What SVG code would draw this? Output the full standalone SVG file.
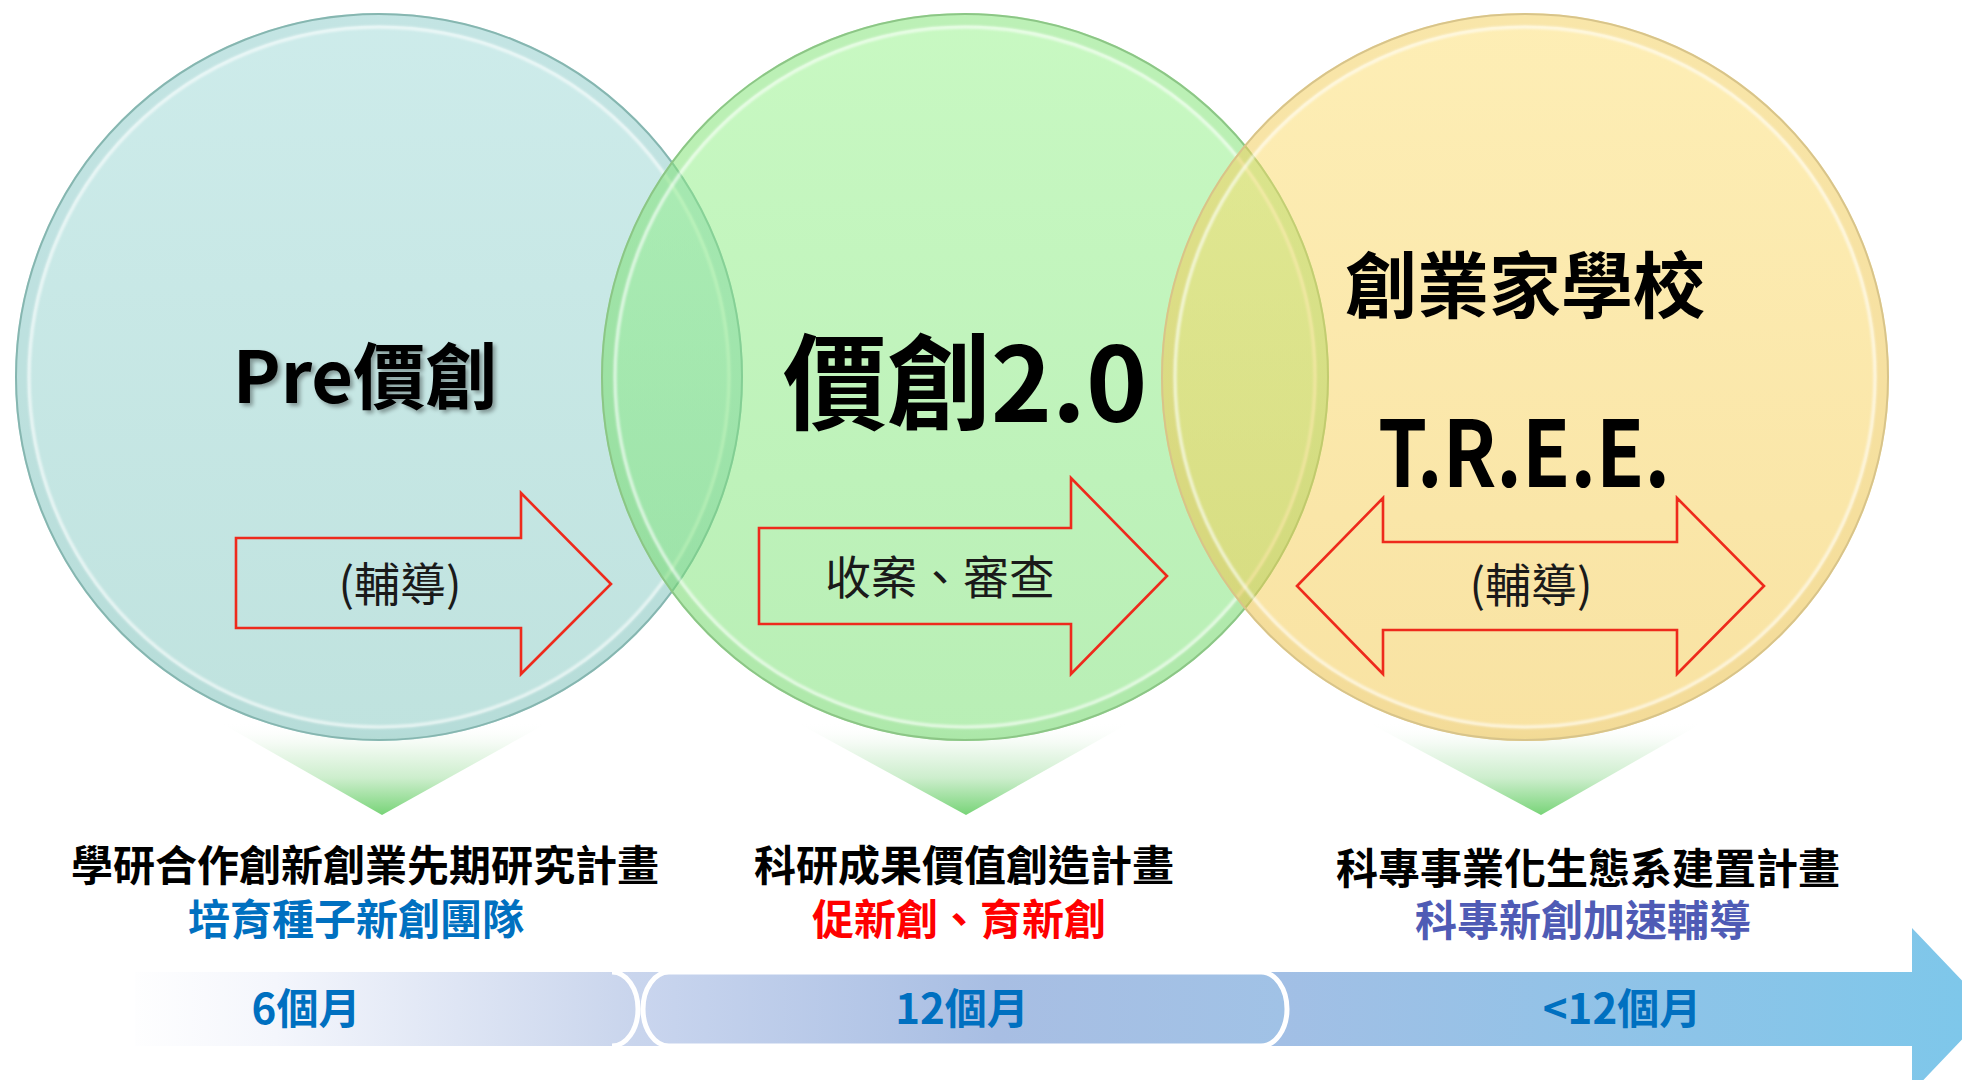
<svg xmlns="http://www.w3.org/2000/svg" width="1962" height="1080" viewBox="0 0 1962 1080">
<style>
.t{font-family:"Noto Sans CJK TC","Noto Sans CJK SC","Noto Sans CJK JP",sans-serif;text-anchor:middle}
.b{font-weight:700}
.rarrow{fill:none;stroke:#EE2A1C;stroke-width:2.6;stroke-linejoin:miter}
.rimDark{fill:none;stroke-width:2}
.rimHi{fill:none;stroke:#ffffff;stroke-width:3.5;opacity:0.6}
</style>
<defs>
<linearGradient id="gBlue" x1="0" y1="0" x2="0" y2="1">
<stop offset="0" stop-color="#9CD8D6"/><stop offset="1" stop-color="#80C6BE"/>
</linearGradient>
<linearGradient id="gGreen" x1="0" y1="0" x2="0" y2="1">
<stop offset="0" stop-color="#92F286"/><stop offset="1" stop-color="#72DE6C"/>
</linearGradient>
<linearGradient id="gYellow" x1="0" y1="0" x2="0" y2="1">
<stop offset="0" stop-color="#FCDD6C"/><stop offset="1" stop-color="#F2C646"/>
</linearGradient>
<linearGradient id="gTri" x1="0" y1="0" x2="0" y2="1">
<stop offset="0" stop-color="#ffffff" stop-opacity="0"/>
<stop offset="0.25" stop-color="#F2FAF2"/>
<stop offset="0.6" stop-color="#CDEECD"/>
<stop offset="1" stop-color="#78D478"/>
</linearGradient>
<linearGradient id="gBar" gradientUnits="userSpaceOnUse" x1="120" y1="0" x2="1962" y2="0">
<stop offset="0" stop-color="#ffffff"/>
<stop offset="0.28" stop-color="#C9D5ED"/>
<stop offset="0.63" stop-color="#A2BFE5"/>
<stop offset="1" stop-color="#7EC7EA"/>
</linearGradient>
<linearGradient id="gLeft" gradientUnits="userSpaceOnUse" x1="120" y1="0" x2="640" y2="0">
<stop offset="0" stop-color="#ffffff"/>
<stop offset="0.3" stop-color="#F4F6FC"/>
<stop offset="1" stop-color="#C8D4EC"/>
</linearGradient>
<linearGradient id="gMid" gradientUnits="userSpaceOnUse" x1="643" y1="0" x2="1287" y2="0">
<stop offset="0" stop-color="#C9D5EE"/>
<stop offset="0.55" stop-color="#A8BEE3"/>
<stop offset="1" stop-color="#A0C2E6"/>
</linearGradient>
<filter id="shadow" x="-10%" y="-20%" width="130%" height="150%">
<feGaussianBlur in="SourceAlpha" stdDeviation="2"/>
<feOffset dx="3" dy="3" result="o"/>
<feComponentTransfer><feFuncA type="linear" slope="0.35"/></feComponentTransfer>
<feMerge><feMergeNode/><feMergeNode in="SourceGraphic"/></feMerge>
</filter>
<filter id="soft" x="-5%" y="-5%" width="110%" height="110%">
<feGaussianBlur stdDeviation="1.2"/>
</filter>
</defs>

<rect width="1962" height="1080" fill="#ffffff"/>

<g id="connectors">
<polygon points="219,722 549,722 382,815" fill="url(#gTri)"/>
<polygon points="796,722 1131,722 966,815" fill="url(#gTri)"/>
<polygon points="1367,722 1704,722 1541,815" fill="url(#gTri)"/>
</g>

<g id="node-pre">
<circle cx="379" cy="377" r="364" fill="url(#gBlue)" fill-opacity="0.5"/>
<circle cx="379" cy="377" r="357" fill="none" stroke="#7FB8B2" stroke-width="11" opacity="0.12"/>
<circle class="rimHi" cx="379" cy="377" r="350" filter="url(#soft)"/>
<circle class="rimDark" cx="379" cy="377" r="363" stroke="#86B6B0"/>
<text class="t b" x="365" y="403" font-size="72" fill="#000" filter="url(#shadow)">Pre價創</text>
<polygon class="rarrow" points="236,538 521,538 521,493 611,584 521,674 521,628 236,628"/>
<text class="t" x="400" y="601" font-size="46" fill="#1a1a1a">(輔導)</text>
</g>

<g id="node-v2">
<circle cx="965" cy="377" r="364" fill="url(#gGreen)" fill-opacity="0.5"/>
<circle cx="965" cy="377" r="357" fill="none" stroke="#6CBF66" stroke-width="11" opacity="0.12"/>
<circle class="rimHi" cx="965" cy="377" r="350" filter="url(#soft)"/>
<circle class="rimDark" cx="965" cy="377" r="363" stroke="#8CC686"/>
<text class="t b" x="965" y="422" font-size="104" fill="#000">價創2.0</text>
<polygon class="rarrow" points="759,528 1071,528 1071,478 1167,576 1071,674 1071,624 759,624"/>
<text class="t" x="940" y="594" font-size="46" fill="#1a1a1a">收案、審查</text>
</g>

<g id="node-tree">
<circle cx="1525" cy="377" r="364" fill="url(#gYellow)" fill-opacity="0.5"/>
<circle cx="1525" cy="377" r="357" fill="none" stroke="#D6B050" stroke-width="11" opacity="0.12"/>
<circle class="rimHi" cx="1525" cy="377" r="350" filter="url(#soft)"/>
<circle class="rimDark" cx="1525" cy="377" r="363" stroke="#D8C48A"/>
<text class="t b" x="1525" y="312" font-size="72" fill="#000">創業家學校</text>
<text class="t b" x="1524" y="487" font-size="92" fill="#000" textLength="292" lengthAdjust="spacingAndGlyphs">T.R.E.E.</text>
<polygon class="rarrow" points="1297,586 1383,498 1383,542 1677,542 1677,498 1764,586 1677,674 1677,630 1383,630 1383,674"/>
<text class="t" x="1531" y="602" font-size="46" fill="#1a1a1a">(輔導)</text>
</g>

<g id="label-1">
<text class="t b" x="365" y="881" font-size="42" fill="#000">學研合作創新創業先期研究計畫</text>
<text class="t b" x="356" y="935" font-size="42" fill="#0070C0">培育種子新創團隊</text>
</g>
<g id="label-2">
<text class="t b" x="964" y="881" font-size="42" fill="#000">科研成果價值創造計畫</text>
<text class="t b" x="959" y="935" font-size="42" fill="#FF0000">促新創、育新創</text>
</g>
<g id="label-3">
<text class="t b" x="1588" y="884" font-size="42" fill="#000">科專事業化生態系建置計畫</text>
<text class="t b" x="1583" y="936" font-size="42" fill="#4F5BB5">科專新創加速輔導</text>
</g>

<g id="timeline">
<polygon points="125,972 1912,972 1912,928 1990,1010 1912,1092 1912,1046 125,1046" fill="url(#gBar)"/>
<path d="M100,972 L612,972 A26,37 0 0 1 612,1046 L100,1046 Z" fill="url(#gLeft)"/>
<path d="M612,972 A26,37 0 0 1 612,1046" fill="none" stroke="#ffffff" stroke-width="5"/>
<path d="M669,972 L1261,972 A26,37 0 0 1 1261,1046 L669,1046 A26,37 0 0 1 669,972 Z" fill="url(#gMid)" stroke="#ffffff" stroke-width="5"/>
<rect x="95" y="968" width="40" height="82" fill="#ffffff" opacity="0.6"/>
<text class="t b" x="306" y="1024" font-size="42" fill="#0070C0">6個月</text>
<text class="t b" x="962" y="1024" font-size="42" fill="#0070C0">12個月</text>
<text class="t b" x="1622" y="1024" font-size="42" fill="#0070C0">&lt;12個月</text>
</g>
</svg>
